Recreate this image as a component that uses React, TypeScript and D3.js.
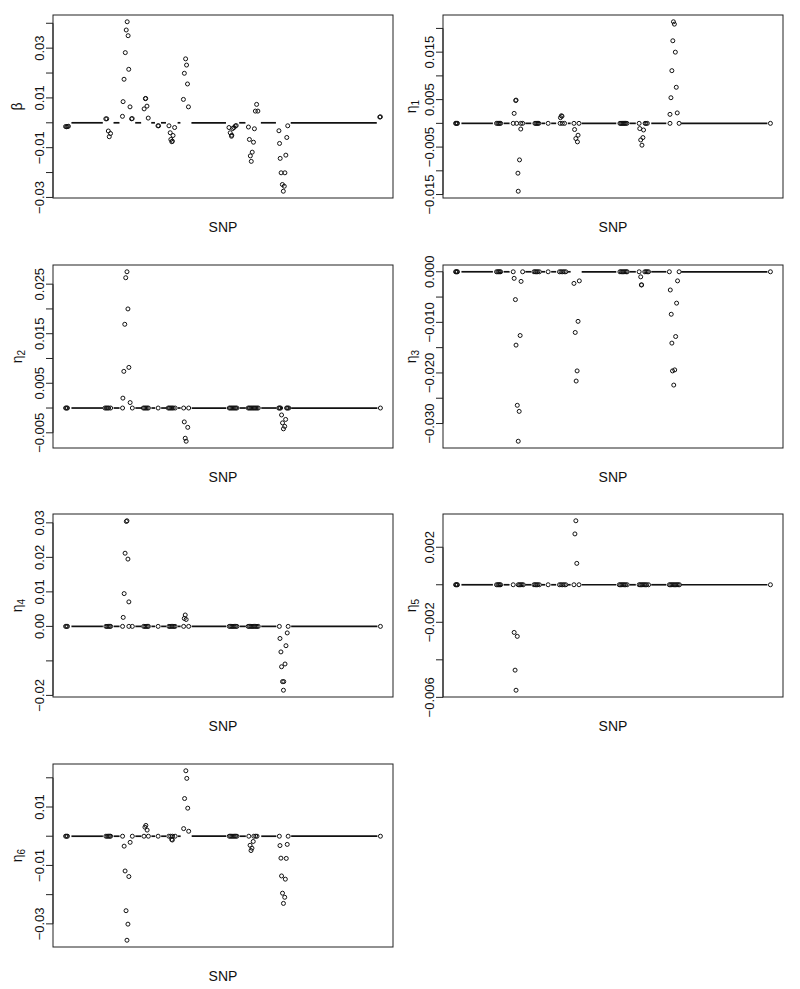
import React from "react";
import * as d3 from "d3";

// ---- shared SNP positions (index scale 0..100) ----
const snpX = [
  0, 0.3, 0.6, 0.9,
  12.8, 13.1, 13.6, 13.9, 14.3,
  18.1, 18.3, 18.6, 19.0, 19.3, 19.6, 19.9, 20.1, 20.5, 21.0, 21.2,
  25.0, 25.4, 25.9, 26.3,
  29.4,
  32.9, 33.3, 33.5, 33.8, 34.2, 34.7,
  37.5, 37.8, 38.2, 38.5, 38.8, 39.1,
  52.0, 52.4, 52.8, 53.2, 53.6, 54.0, 54.3,
  58.2, 58.5, 58.8, 59.1, 59.4, 59.8, 60.1, 60.4, 60.8, 61.2,
  67.9, 68.1, 68.3, 68.6, 69.0, 69.3, 69.6, 69.8, 70.1, 70.4, 70.7,
  100,
];

// ---- beta ----
const betaPts: [number, number][] = [
  [0, -0.0015], [0.3, -0.0016], [0.6, -0.0015], [0.9, -0.0014],
  [12.8, 0.0016], [13.1, 0.0016], [13.6, -0.0033], [14.3, -0.0043], [13.9, -0.0056],
  [18.1, 0.0026], [18.3, 0.0085], [18.6, 0.0175], [19.0, 0.0282], [19.3, 0.0373], [19.6, 0.0406],
  [19.9, 0.035], [20.1, 0.0215], [20.5, 0.0064], [21.0, 0.0016], [21.2, 0.0017],
  [25.0, 0.0056], [25.4, 0.0097], [25.5, 0.0098], [25.9, 0.0067], [26.3, 0.0019],
  [29.4, -0.0012], [29.6, -0.0012],
  [32.9, -0.0012], [33.3, -0.004], [33.5, -0.0067], [33.8, -0.0076], [34.0, -0.0074], [34.2, -0.0051], [34.7, -0.0019],
  [37.5, 0.0094], [37.8, 0.0199], [38.2, 0.0257], [38.5, 0.0232], [38.8, 0.0156], [39.1, 0.0064],
  [52.0, -0.0019], [52.4, -0.004], [52.8, -0.0054], [52.9, -0.005], [53.2, -0.0023], [53.6, -0.0019], [54.0, -0.0013], [54.3, -0.0011],
  [58.2, -0.0017], [58.5, -0.0067], [58.8, -0.0133], [59.1, -0.0155], [59.4, -0.0118], [59.8, -0.0078], [60.1, -0.0024],
  [60.4, 0.0047], [60.8, 0.0074], [61.2, 0.0047],
  [67.9, -0.0032], [68.1, -0.0083], [68.3, -0.0143], [68.6, -0.0201], [69.0, -0.0248], [69.3, -0.0275],
  [69.6, -0.0255], [69.8, -0.0201], [70.1, -0.013], [70.4, -0.0059], [70.7, -0.0012],
  [100, 0.0023], [100.2, 0.0024],
];
const betaZero: number[] = [];
const betaTicks = [-0.03, -0.02, -0.01, 0, 0.01, 0.02, 0.03, 0.04];
const betaLabels: [number, string][] = [[-0.03, "−0.03"], [-0.01, "−0.01"], [0.01, "0.01"], [0.03, "0.03"]];

// ---- eta1 ----
const eta1Pts: [number, number][] = [
  [18.6, 0.0021], [19.1, 0.0048], [19.2, 0.0049], [19.8, -0.0105], [19.9, -0.0143], [20.3, -0.0077], [20.7, -0.0012],
  [33.3, 0.0012], [33.6, 0.0016], [33.8, 0.0015],
  [37.8, -0.0013], [38.2, -0.0032], [38.7, -0.0039], [38.9, -0.0025],
  [58.5, -0.0011], [58.8, -0.0035], [59.2, -0.0046], [59.5, -0.003], [59.7, -0.0014],
  [68.1, 0.0019], [68.4, 0.0054], [68.7, 0.0111], [69.0, 0.0174], [69.2, 0.0214], [69.5, 0.0209],
  [69.8, 0.015], [70.1, 0.0076], [70.4, 0.0022],
];
const eta1Zero = [
  0, 0.2, 0.4, 0.6, 13.0, 13.4, 13.7, 14.0, 14.3, 18.3, 19.4, 20.7, 21.3,
  25.2, 25.5, 25.8, 26.1, 26.4, 29.4, 33.2, 33.9, 34.6, 37.6, 39.2,
  52.2, 52.5, 52.8, 53.1, 53.4, 53.7, 54.0, 54.4, 58.3, 60.2, 60.5, 60.9, 68.1, 71.0, 100,
];
const eta1Ticks = [-0.015, -0.01, -0.005, 0, 0.005, 0.01, 0.015, 0.02];
const eta1Labels: [number, string][] = [[-0.015, "−0.015"], [-0.005, "−0.005"], [0.005, "0.005"], [0.015, "0.015"]];

// ---- eta2 ----
const eta2Pts: [number, number][] = [
  [18.2, 0.002], [18.5, 0.0074], [18.8, 0.0169], [19.1, 0.0263], [19.5, 0.0275], [19.8, 0.02], [20.1, 0.0082], [20.5, 0.0011],
  [37.7, -0.0028], [38.0, -0.0061], [38.3, -0.0067], [38.8, -0.0039],
  [68.6, -0.0014], [68.9, -0.003], [69.2, -0.0042], [69.6, -0.0037], [69.9, -0.0023],
];
const eta2Zero = [
  0, 0.3, 0.6, 12.5, 12.9, 13.3, 13.7, 14.3, 18.1, 21.2, 24.7, 25.1, 25.5, 25.9, 26.3, 29.4,
  32.6, 33.0, 33.4, 33.8, 34.2, 34.8, 37.5, 39.1, 52.0, 52.4, 52.8, 53.2, 53.6, 54.0, 54.4,
  58.0, 58.4, 58.8, 59.2, 59.6, 60.0, 60.4, 60.8, 61.2, 67.7, 68.0, 68.3, 70.2, 70.5, 70.9, 100,
];
const eta2Ticks = [-0.005, 0, 0.005, 0.01, 0.015, 0.02, 0.025];
const eta2Labels: [number, string][] = [[-0.005, "−0.005"], [0.005, "0.005"], [0.015, "0.015"], [0.025, "0.025"]];

// ---- eta3 ----
const eta3Pts: [number, number][] = [
  [18.6, -0.0013], [19.0, -0.0055], [19.2, -0.0145], [19.6, -0.0264], [19.9, -0.0335], [20.2, -0.0276], [20.5, -0.0126], [20.8, -0.0019],
  [37.6, -0.0023], [38.0, -0.012], [38.3, -0.0216], [38.6, -0.0196], [38.9, -0.0098], [39.3, -0.0018],
  [58.8, -0.001], [59.0, -0.0026], [59.1, -0.0026],
  [68.2, -0.0036], [68.5, -0.0084], [68.7, -0.0141], [68.9, -0.0196], [69.3, -0.0224], [69.6, -0.0194],
  [69.9, -0.0128], [70.2, -0.0062], [70.5, -0.0018],
];
const eta3Zero = [
  0, 0.2, 0.4, 0.6, 13.0, 13.4, 13.7, 14.0, 14.3, 18.3, 21.3, 24.9, 25.3, 25.7, 26.1, 26.6, 29.4,
  33.0, 33.5, 34.0, 34.5, 35.0, 52.2, 52.6, 53.0, 53.4, 53.8, 54.2, 54.5, 58.3, 60.1, 60.5, 60.9, 61.3,
  67.9, 71.0, 100,
];
const eta3Ticks = [-0.03, -0.025, -0.02, -0.015, -0.01, -0.005, 0];
const eta3Labels: [number, string][] = [[-0.03, "−0.030"], [-0.02, "−0.020"], [-0.01, "−0.010"], [0, "0.000"]];

// ---- eta4 ----
const eta4Pts: [number, number][] = [
  [18.3, 0.0026], [18.6, 0.0095], [18.9, 0.0212], [19.3, 0.0304], [19.5, 0.0306], [19.8, 0.0195], [20.1, 0.0071],
  [37.7, 0.0023], [38.0, 0.0033], [38.3, 0.002],
  [68.1, -0.0035], [68.4, -0.0074], [68.6, -0.0117], [68.9, -0.016], [69.3, -0.016], [69.2, -0.0185],
  [69.7, -0.0109], [70.0, -0.0056], [70.4, -0.0019],
];
const eta4Zero = [
  0, 0.3, 0.6, 12.8, 13.2, 13.6, 14.0, 14.3, 18.1, 20.1, 21.2, 24.8, 25.2, 25.6, 26.0, 26.3, 29.4,
  32.8, 33.2, 33.6, 34.0, 34.4, 34.8, 37.5, 39.1, 52.0, 52.4, 52.8, 53.2, 53.6, 54.0, 54.4,
  58.0, 58.4, 58.8, 59.2, 59.6, 60.0, 60.4, 60.8, 61.2, 67.9, 70.7, 100,
];
const eta4Ticks = [-0.02, -0.01, 0, 0.01, 0.02, 0.03];
const eta4Labels: [number, string][] = [[-0.02, "−0.02"], [0, "0.00"], [0.01, "0.01"], [0.02, "0.02"], [0.03, "0.03"]];

// ---- eta5 ----
const eta5Pts: [number, number][] = [
  [18.6, -0.00254], [19.6, -0.00275], [18.9, -0.00455], [19.2, -0.00562],
  [37.9, 0.00271], [38.2, 0.00341], [38.5, 0.00114],
];
const eta5Zero = [
  0, 0.2, 0.4, 0.6, 13.0, 13.4, 13.7, 14.0, 14.3, 18.3, 19.9, 20.3, 20.7, 21.1, 21.5,
  24.9, 25.3, 25.7, 26.1, 26.6, 29.4, 33.0, 33.5, 34.0, 34.5, 35.0, 37.6, 39.2,
  52.0, 52.4, 52.8, 53.2, 53.6, 54.0, 54.5, 58.3, 58.7, 59.1, 59.5, 59.9, 60.3, 60.7, 61.3,
  67.9, 68.3, 68.7, 69.1, 69.5, 69.9, 70.3, 70.7, 71.1, 100,
];
const eta5Ticks = [-0.006, -0.004, -0.002, 0, 0.002];
const eta5Labels: [number, string][] = [[-0.006, "−0.006"], [-0.002, "−0.002"], [0.002, "0.002"]];

// ---- eta6 ----
const eta6Pts: [number, number][] = [
  [18.6, -0.0034], [18.9, -0.0119], [19.2, -0.0255], [19.5, -0.0356], [19.8, -0.0301], [20.1, -0.0138], [20.5, -0.0021],
  [25.2, 0.0031], [25.5, 0.0037], [25.9, 0.0021], [33.7, -0.0011], [33.9, -0.0013],
  [37.5, 0.0026], [37.8, 0.0129], [38.2, 0.0224], [38.5, 0.0198], [38.8, 0.0096], [39.1, 0.0017],
  [58.6, -0.0031], [58.9, -0.0049], [59.2, -0.0041], [59.6, -0.0018],
  [68.1, -0.0032], [68.4, -0.0075], [68.6, -0.0136], [68.9, -0.0195], [69.2, -0.023], [69.6, -0.0209],
  [69.8, -0.0147], [70.1, -0.0076], [70.4, -0.0028],
];
const eta6Zero = [
  0, 0.3, 0.6, 12.8, 13.2, 13.6, 14.0, 14.3, 18.1, 21.2, 24.9, 26.3, 29.4, 32.8, 33.4, 34.0, 34.8,
  52.0, 52.4, 52.8, 53.2, 53.6, 54.0, 54.4, 58.2, 59.8, 60.4, 60.8, 67.9, 70.7, 100,
];
const eta6Ticks = [-0.03, -0.02, -0.01, 0, 0.01, 0.02];
const eta6Labels: [number, string][] = [[-0.03, "−0.03"], [-0.01, "−0.01"], [0.01, "0.01"]];

const xLabel = "SNP";

type Panel = {
  base: string;
  sub: string;
  pts: [number, number][];
  zeros: number[];
  ticks: number[];
  labels: [number, string][];
  col: number;
  row: number;
};

const panels: Panel[] = [
  { base: "β", sub: "", pts: betaPts, zeros: betaZero, ticks: betaTicks, labels: betaLabels, col: 0, row: 0 },
  { base: "η", sub: "1", pts: eta1Pts, zeros: eta1Zero, ticks: eta1Ticks, labels: eta1Labels, col: 1, row: 0 },
  { base: "η", sub: "2", pts: eta2Pts, zeros: eta2Zero, ticks: eta2Ticks, labels: eta2Labels, col: 0, row: 1 },
  { base: "η", sub: "3", pts: eta3Pts, zeros: eta3Zero, ticks: eta3Ticks, labels: eta3Labels, col: 1, row: 1 },
  { base: "η", sub: "4", pts: eta4Pts, zeros: eta4Zero, ticks: eta4Ticks, labels: eta4Labels, col: 0, row: 2 },
  { base: "η", sub: "5", pts: eta5Pts, zeros: eta5Zero, ticks: eta5Ticks, labels: eta5Labels, col: 1, row: 2 },
  { base: "η", sub: "6", pts: eta6Pts, zeros: eta6Zero, ticks: eta6Ticks, labels: eta6Labels, col: 0, row: 3 },
];

const FONT = "'Liberation Sans', Arial, Helvetica, sans-serif";
const colLeft = [53, 443];
const colYlab = [22, 416];
const rowTop = [15, 265, 514, 764];
const PW = 340;
const PH = 183;

function rRange(vals: number[]): [number, number] {
  const [mn, mx] = d3.extent(vals) as [number, number];
  const r = mx - mn;
  return [mn - 0.04 * r, mx + 0.04 * r];
}

function PanelView({ p }: { p: Panel }) {
  const left = colLeft[p.col];
  const top = rowTop[p.row];
  const xs = [...p.pts.map((d) => d[0]), ...p.zeros];
  const ys = [...p.pts.map((d) => d[1]), ...p.zeros.map(() => 0)];
  const x = d3.scaleLinear().domain(rRange(xs)).range([left, left + PW]);
  const y = d3.scaleLinear().domain(rRange(ys)).range([top + PH, top]);
  const y0 = y(0);
  const gap = 3;
  const segs: [number, number][] = [];
  for (let i = 0; i < snpX.length - 1; i++) {
    const a = x(snpX[i]) + gap;
    const b = x(snpX[i + 1]) - gap;
    if (b > a) segs.push([a, b]);
  }
  const r = 2;
  return (
    <g>
      {segs.map(([a, b], i) => (
        <line key={"s" + i} x1={a} x2={b} y1={y0} y2={y0} stroke="#111" strokeWidth={1.7} />
      ))}
      {p.zeros.map((v, i) => (
        <circle key={"z" + i} cx={x(v)} cy={y0} r={r} fill="none" stroke="#111" strokeWidth={1} />
      ))}
      {p.pts.map((d, i) => (
        <circle key={"p" + i} cx={x(d[0])} cy={y(d[1])} r={r} fill="none" stroke="#111" strokeWidth={1} />
      ))}
      <rect x={left} y={top} width={PW} height={PH} fill="none" stroke="#222" strokeWidth={1} />
      {p.ticks.map((t, i) => (
        <line key={"t" + i} x1={left - 7} x2={left} y1={y(t)} y2={y(t)} stroke="#222" strokeWidth={1} />
      ))}
      <line x1={left} x2={left} y1={y(p.ticks[0])} y2={y(p.ticks[p.ticks.length - 1])} stroke="#222" />
      {p.labels.map(([v, s], i) => (
        <text
          key={"l" + i}
          transform={`translate(${left - 9.5},${y(v)}) rotate(-90)`}
          textAnchor="middle"
          fontSize={13}
          fontFamily={FONT}
          fill="#111"
        >
          {s}
        </text>
      ))}
      <text
        transform={`translate(${colYlab[p.col]},${top + PH / 2}) rotate(-90)`}
        textAnchor="middle"
        fontSize={14}
        fontFamily={FONT}
        fill="#111"
      >
        {p.base}
        {p.sub ? (
          <tspan fontSize={10} dy={3}>
            {p.sub}
          </tspan>
        ) : null}
      </text>
      <text x={left + PW / 2} y={top + PH + 34} textAnchor="middle" fontSize={14} fontFamily={FONT} fill="#111">
        {xLabel}
      </text>
    </g>
  );
}

export default function App() {
  return (
    <svg
      width={800}
      height={989}
      style={{ position: "absolute", left: 0, top: 0, background: "#fff" }}
    >
      <rect width={800} height={989} fill="#fff" />
      {panels.map((p, i) => (
        <PanelView key={i} p={p} />
      ))}
    </svg>
  );
}
